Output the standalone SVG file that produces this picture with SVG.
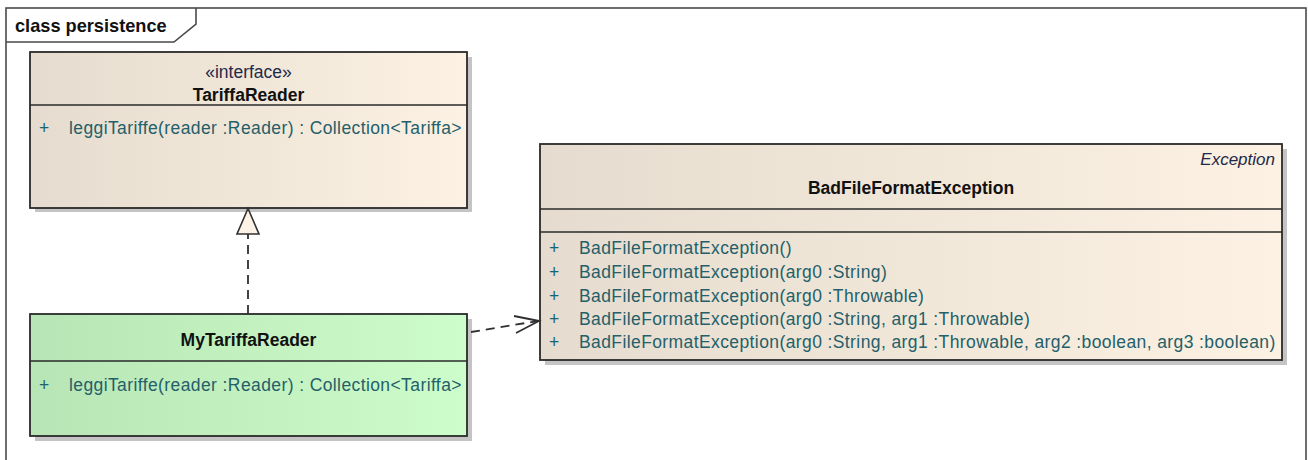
<svg xmlns="http://www.w3.org/2000/svg" width="1308" height="460" viewBox="0 0 1308 460">
  <defs>
    <linearGradient id="beige" x1="0" y1="0" x2="1" y2="0">
      <stop offset="0" stop-color="#e5dccf"/>
      <stop offset="1" stop-color="#fcf1e2"/>
    </linearGradient>
    <linearGradient id="green" x1="0" y1="0" x2="1" y2="0">
      <stop offset="0" stop-color="#b8e5b5"/>
      <stop offset="1" stop-color="#cdfdca"/>
    </linearGradient>
  </defs>
  <style>
    text { font-family: "Liberation Sans", Arial, sans-serif; }
    .frame { fill: none; stroke: #4a4a4a; stroke-width: 1.6; }
    .box { stroke: #2a2a2a; stroke-width: 1.8; }
    .sep { stroke: #2a2a2a; stroke-width: 1.6; }
    .shadow { fill: #c4c4c4; }
    .title { font-size: 17.5px; font-weight: bold; fill: #111; text-anchor: middle; }
    .stereo { font-size: 17.5px; fill: #1e2a4a; text-anchor: middle; }
    .italic { font-size: 17px; font-style: italic; fill: #1e2a4a; text-anchor: end; }
    .vis { font-size: 17.5px; fill: #1a6470; }
    .op { font-size: 17.5px; fill: #245f6a; letter-spacing: 0.4px; }
    .conn { fill: none; stroke: #303030; stroke-width: 1.8; stroke-dasharray: 9 6; }
    .head { fill: none; stroke: #303030; stroke-width: 1.8; }
  </style>

  <!-- diagram frame with name tab -->
  <g id="frame">
    <rect x="0" y="0" width="1308" height="460" fill="#ffffff"/>
    <rect class="frame" x="6" y="8" width="1300" height="470"/>
    <path class="frame" d="M6 42 H174 L196 24 V8"/>
    <text x="15" y="32" style="font-size:18.2px;font-weight:bold;fill:#111">class persistence</text>
  </g>

  <!-- interface TariffaReader -->
  <g id="TariffaReader">
    <rect class="shadow" x="35" y="57" width="437" height="155"/>
    <rect class="box" x="30" y="52" width="437" height="156" fill="url(#beige)"/>
    <line class="sep" x1="30" y1="105" x2="467" y2="105"/>
    <text class="stereo" x="248.5" y="78">«interface»</text>
    <text class="title" x="248.5" y="101">TariffaReader</text>
    <text class="vis" x="39" y="134">+</text>
    <text class="op" x="69" y="134">leggiTariffe(reader :Reader) : Collection&lt;Tariffa&gt;</text>
  </g>

  <!-- class MyTariffaReader -->
  <g id="MyTariffaReader">
    <rect class="shadow" x="35" y="319" width="437" height="122"/>
    <rect class="box" x="30" y="314" width="437" height="122" fill="url(#green)"/>
    <line class="sep" x1="30" y1="361" x2="467" y2="361"/>
    <text class="title" x="248.5" y="346">MyTariffaReader</text>
    <text class="vis" x="39" y="391">+</text>
    <text class="op" x="69" y="391">leggiTariffe(reader :Reader) : Collection&lt;Tariffa&gt;</text>
  </g>

  <!-- class BadFileFormatException -->
  <g id="BadFileFormatException">
    <rect class="shadow" x="545" y="149" width="742" height="216"/>
    <rect class="box" x="540" y="144" width="742" height="216" fill="url(#beige)"/>
    <line class="sep" x1="540" y1="209" x2="1282" y2="209"/>
    <line class="sep" x1="540" y1="232" x2="1282" y2="232"/>
    <text class="italic" x="1275" y="165">Exception</text>
    <text class="title" x="911" y="194">BadFileFormatException</text>
    <g class="vis">
      <text x="549" y="254">+</text>
      <text x="549" y="278">+</text>
      <text x="549" y="302">+</text>
      <text x="549" y="325">+</text>
      <text x="549" y="348">+</text>
    </g>
    <g class="op">
      <text x="579" y="254">BadFileFormatException()</text>
      <text x="579" y="278">BadFileFormatException(arg0 :String)</text>
      <text x="579" y="302">BadFileFormatException(arg0 :Throwable)</text>
      <text x="579" y="325">BadFileFormatException(arg0 :String, arg1 :Throwable)</text>
      <text x="579" y="348">BadFileFormatException(arg0 :String, arg1 :Throwable, arg2 :boolean, arg3 :boolean)</text>
    </g>
  </g>

  <!-- connectors -->
  <g id="connectors">
    <!-- realization: MyTariffaReader implements TariffaReader -->
    <line class="conn" x1="248" y1="314" x2="248" y2="234" stroke-dasharray="8 5"/>
    <path d="M248 208.5 L237 234 H259 Z" fill="#fcf3e6" stroke="#303030" stroke-width="1.6" stroke-linejoin="miter"/>
    <!-- dependency: MyTariffaReader uses BadFileFormatException -->
    <line class="conn" x1="471" y1="332" x2="538" y2="321"/>
    <path class="head" d="M514 316 L539 321 L516 333"/>
  </g>
</svg>
